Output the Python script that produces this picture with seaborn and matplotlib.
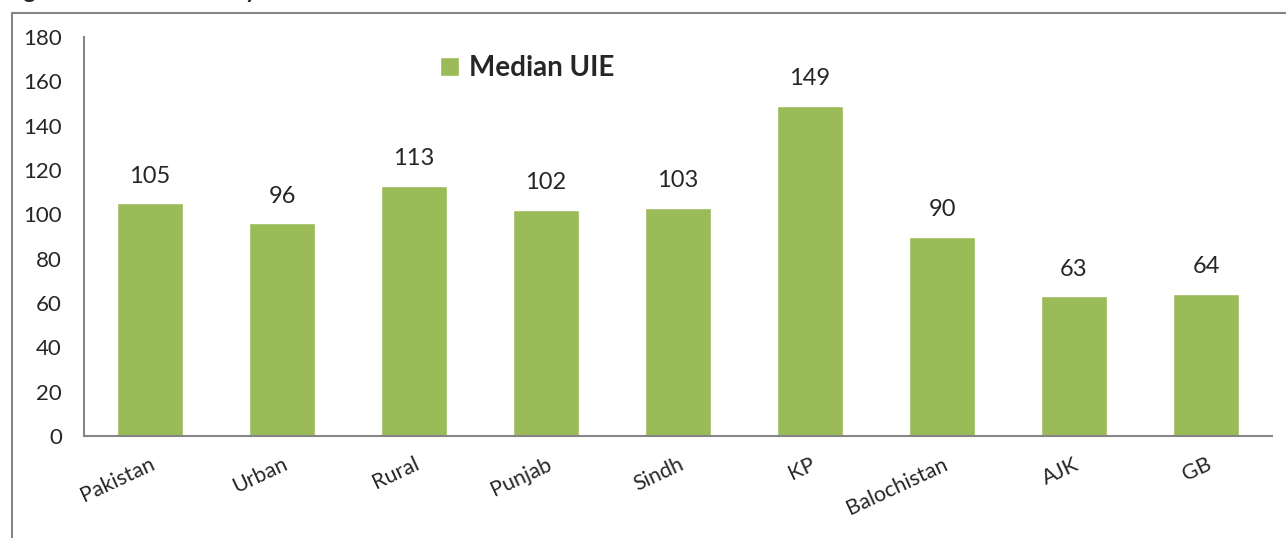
import matplotlib
matplotlib.use("Agg")
import matplotlib.pyplot as plt
from matplotlib.lines import Line2D
from matplotlib.patches import Patch
import seaborn as sns
import pandas as pd
import numpy as np

# values
regions = ["Pakistan", "Urban", "Rural", "Punjab", "Sindh", "KP", "Balochistan", "AJK", "GB"]
median_uie = [105, 96, 113, 102, 103, 149, 90, 63, 64]
yticks = [0, 20, 40, 60, 80, 100, 120, 140, 160, 180]

df = pd.DataFrame({"Region": regions, "Median UIE": median_uie})

sns.set_theme(style="white")
plt.rcParams['font.family'] = ['Lato', 'DejaVu Sans']

green = "#9BBB59"
grey = "#868686"

fig = plt.figure(figsize=(12.86, 5.38), dpi=100)
ax = fig.add_axes([84/1286, 1 - 436/538, (1272 - 84)/1286, (436 - 37)/538])

sns.barplot(data=df, x="Region", y="Median UIE", color=green, width=0.5,
            saturation=1, ax=ax)

ax.set_xlim(-0.5, len(regions) - 0.5)
ax.set_ylim(0, 180)
ax.set_yticks(yticks)
ax.set_xlabel("")
ax.set_ylabel("")

# category boundary ticks
ax.set_xticks(np.arange(-0.5, len(regions)), minor=True)
ax.tick_params(axis='x', which='minor', length=8, width=1.5, color=grey, direction='out')
ax.tick_params(axis='x', which='major', length=0, pad=13, labelsize=15.5)
ax.tick_params(axis='y', length=8, width=1.5, color=grey, direction='out', labelsize=16, pad=8)
for lab in ax.get_xticklabels():
    lab.set_rotation(25)
    lab.set_ha('right')
    lab.set_rotation_mode('anchor')

for s in ['top', 'right']:
    ax.spines[s].set_visible(False)
for s in ['left', 'bottom']:
    ax.spines[s].set_color(grey)
    ax.spines[s].set_linewidth(1.5)

# value labels
for i, v in enumerate(median_uie):
    ax.annotate(str(v), (i, v), xytext=(0, 12), textcoords='offset points',
                ha='center', va='bottom', fontsize=17)

ax.legend(handles=[Patch(facecolor=green, label="Median UIE")],
          loc='upper left', bbox_to_anchor=(440/1286, 1 - 55/538),
          bbox_transform=fig.transFigure, frameon=False,
          prop={'weight': 'bold', 'size': 20}, handlelength=0.7, handleheight=0.7,
          handletextpad=0.35, borderaxespad=0, borderpad=0)

# chart area frame (partly cut off)
fig.add_artist(Line2D([12/1286, 12/1286], [-0.05, 1 - 13/538], color=grey, lw=1.5,
                      transform=fig.transFigure, clip_on=False))
fig.add_artist(Line2D([12/1286, 1.05], [1 - 13/538, 1 - 13/538], color=grey, lw=1.5,
                      transform=fig.transFigure, clip_on=False))

# caption above the chart, cut at the top edge
fig.text(4/1286, 1 + 2/538, "Figure 4: Median UIE by Province", fontsize=17,
         fontweight='bold', va='baseline', ha='left')

fig.savefig("out.png", dpi=100)
